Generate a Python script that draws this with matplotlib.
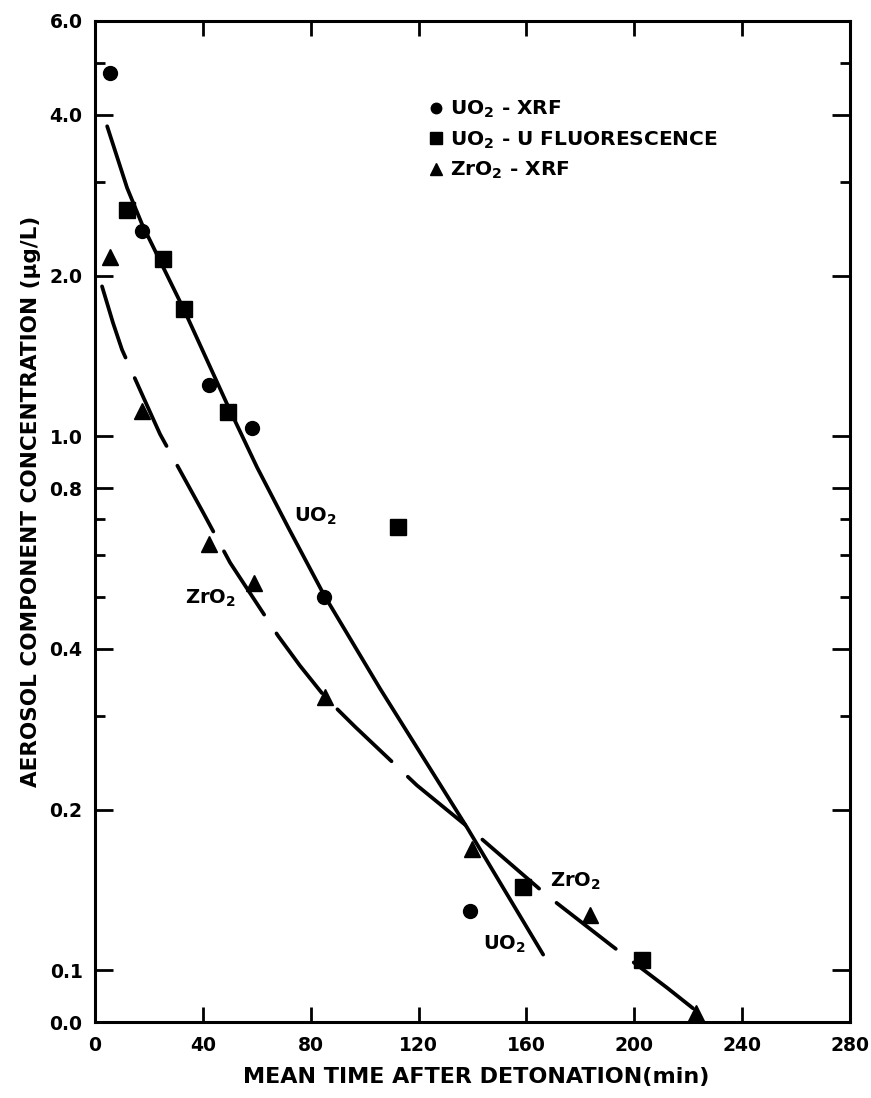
import numpy as np
import matplotlib
matplotlib.use("Agg")
import matplotlib.pyplot as plt
from matplotlib.ticker import FixedLocator, NullFormatter

# data
t_uo2_xrf = [5.6, 17.4, 42.3, 58.2, 84.9, 139.1]
c_uo2_xrf = [4.80, 2.42, 1.25, 1.035, 0.50, 0.129]

t_uo2_fluor = [11.9, 25.2, 33.0, 49.3, 112.4, 158.8, 202.9]
c_uo2_fluor = [2.65, 2.15, 1.73, 1.11, 0.676, 0.143, 0.1045]

t_zro2_xrf = [5.6, 17.4, 42.3, 59.0, 85.3, 139.8, 183.6, 223.0]
c_zro2_xrf = [2.17, 1.114, 0.628, 0.531, 0.325, 0.169, 0.127, 0.083]

# fitted curves as drawn in the original
t_uo2_fit = [4.5, 11.9, 17.4, 33.0, 49.3, 60.1, 72.0, 84.9, 105.7, 120.5, 138.0, 166.2]
c_uo2_fit = [3.81, 2.92, 2.50, 1.727, 1.14, 0.875, 0.67, 0.505, 0.337, 0.256, 0.185, 0.107]

t_zro2_fit = [2.6, 6.7, 10.0, 17.4, 24.1, 40.1, 50.1, 67.9, 76.0, 85.3,
              96.4, 119.4, 138.0, 167.7, 191.8, 212.2, 225.5]
c_zro2_fit = [1.91, 1.63, 1.454, 1.20, 1.01, 0.72, 0.58, 0.423, 0.372, 0.325,
              0.286, 0.222, 0.186, 0.138, 0.111, 0.0927, 0.082]

y_major = [0.08, 0.1, 0.2, 0.4, 0.8, 1.0, 2.0, 4.0, 6.0]
y_major_labels = ["0.0", "0.1", "0.2", "0.4", "0.8", "1.0", "2.0", "4.0", "6.0"]
y_minor = [0.3, 0.5, 0.6, 0.7, 3.0, 5.0]
x_ticks = [0, 40, 80, 120, 160, 200, 240, 280]

plt.rcParams['font.family'] = ['DejaVu Sans']
plt.rcParams['font.weight'] = 'bold'
plt.rcParams['mathtext.fontset'] = 'dejavusans'
plt.rcParams['mathtext.default'] = 'bf'

fig = plt.figure(figsize=(8.71, 10.98), dpi=100)
ax = fig.add_axes([0.1091, 0.0692, 0.8668, 0.9117])

# fitted lines
ax.plot(t_uo2_fit, c_uo2_fit, color='black', lw=2.7, solid_capstyle='round',
        solid_joinstyle='round')
ln, = ax.plot(t_zro2_fit, c_zro2_fit, color='black', lw=2.7, dash_capstyle='round',
              dash_joinstyle='round')
ln.set_dashes((20, 6))

# measured points
h1, = ax.plot(t_uo2_xrf, c_uo2_xrf, 'o', color='black', ms=10, ls='none',
              label=r"UO$_2$ - XRF")
h2, = ax.plot(t_uo2_fluor, c_uo2_fluor, 's', color='black', ms=12, ls='none',
              label=r"UO$_2$ - U FLUORESCENCE")
h3, = ax.plot(t_zro2_xrf, c_zro2_xrf, '^', color='black', ms=11, ls='none',
              label=r"ZrO$_2$ - XRF")

ax.set_yscale('log')
ax.set_xlim(0, 280)
ax.set_ylim(0.08, 6.0)

ax.yaxis.set_major_locator(FixedLocator(y_major))
ax.set_yticklabels(y_major_labels)
ax.yaxis.set_minor_locator(FixedLocator(y_minor))
ax.yaxis.set_minor_formatter(NullFormatter())
ax.set_xticks(x_ticks)
ax.set_xticklabels(["0", "40", "80", "120", "160", "200", "240", "280"])

ax.tick_params(which='both', direction='in', top=True, right=True, width=2,
               labelsize=13.5)
ax.tick_params(axis='y', which='major', length=13, pad=9)
ax.tick_params(axis='y', which='minor', length=7)
ax.tick_params(axis='x', which='major', length=11, pad=10)
for sp in ax.spines.values():
    sp.set_linewidth(2.2)

ax.set_xlabel("MEAN TIME AFTER DETONATION(min)", fontsize=16, fontweight='bold')
ax.xaxis.set_label_coords(0.505, -0.045)
ax.set_ylabel("AEROSOL COMPONENT CONCENTRATION (\u03bcg/L)", fontsize=15.5,
              fontweight='bold')
ax.yaxis.set_label_coords(-0.072, 0.52)

# curve labels
ax.text(81.9, 0.709, r"UO$_2$", fontsize=14, ha='center', va='center')
ax.text(42.7, 0.498, r"ZrO$_2$", fontsize=14, ha='center', va='center')
ax.text(178, 0.147, r"ZrO$_2$", fontsize=14, ha='center', va='center')
ax.text(151.7, 0.112, r"UO$_2$", fontsize=14, ha='center', va='center')

ax.legend(handles=[h1, h2, h3], loc='upper left', bbox_to_anchor=(0.43, 0.932),
          frameon=False, fontsize=14.5, handlelength=0.6, handletextpad=0.4,
          labelspacing=0.45, markerscale=0.75, borderpad=0)

fig.savefig("out.png", dpi=100)
